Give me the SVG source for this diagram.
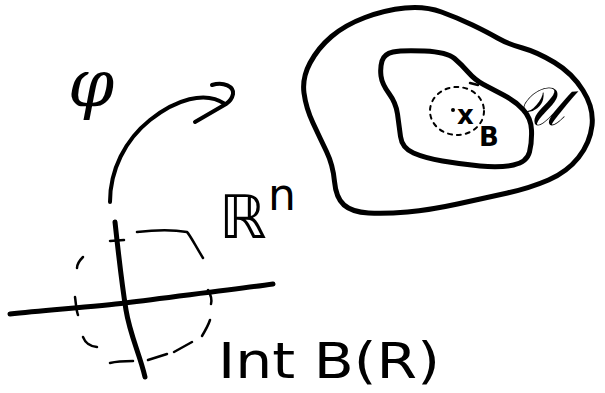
<svg xmlns="http://www.w3.org/2000/svg" width="605" height="393" viewBox="0 0 605 393">
<style>
.ink{fill:none;stroke:#000;stroke-linecap:round;stroke-linejoin:round}
.thick{stroke-width:5}
.mid{stroke-width:4}
.dash{stroke-width:2.5}
.dot{stroke-width:2;stroke-dasharray:4 5}
.t{fill:#000;font-family:"DejaVu Sans","Liberation Sans",sans-serif}
.s{fill:#000;font-family:"DejaVu Serif","Liberation Serif",serif}
</style>
<rect width="605" height="393" fill="#fff"/>
<g id="outer-set">
<path class="ink thick" d="M 304,93 Q 302,78 310,63 Q 318,48 331.5,36.5 Q 345,25 365,17.5 Q 385,10 405,8 Q 425,6 441.5,12 Q 458,18 472.5,25 Q 487,32 497.5,38 Q 508,44 522.5,48 Q 537,52 554.5,62.5 Q 572,73 583,90.5 Q 594,108 592,125.5 Q 590,143 578.5,157.5 Q 567,172 548.5,180 Q 530,188 507.5,193 Q 485,198 457.5,204 Q 430,210 407.5,212 Q 385,214 368.5,213 Q 352,212 344,205 Q 336,198 334.5,181.5 Q 333,165 326.5,151.5 Q 320,138 313,123 Q 306,108 304,93 Z"/>
</g>
<g id="U-set">
<path class="ink thick" d="M 381,76 Q 380,68 382,61 Q 384,54 393,52 Q 402,50 424.5,51 Q 447,52 454.5,58.5 Q 462,65 468.5,72.5 Q 475,80 483.5,84.5 Q 492,89 503.5,95 Q 515,101 523,109.5 Q 531,118 531.5,130 Q 532,142 529.5,152 Q 527,162 513.5,165 Q 500,168 480,166 Q 460,164 442.5,161 Q 425,158 413.5,153 Q 402,148 400.5,136.5 Q 399,125 397.5,114 Q 396,103 389,93.5 Q 382,84 381,76 Z"/>
<path class="ink dash" d="M 470,83 L 478,85"/>
<text class="s" x="516" y="125" font-size="54" font-style="italic">𝒰</text>
</g>
<g id="ball-B">
<ellipse class="ink dot" cx="457" cy="111" rx="27" ry="24"/>
<circle cx="453" cy="110" r="2" fill="#000"/>
<text class="t" x="457" y="124" font-size="26" font-weight="bold">x</text>
<text class="t" x="479" y="146" font-size="26" font-weight="bold">B</text>
</g>
<g id="phi">
<text class="s" x="68" y="106" font-size="66" font-style="italic">φ</text>
</g>
<g id="Rn">
<path class="ink thick" d="M 10,314 C 50,310 100,306 125,303 C 170,297 230,290 273,284"/>
<path class="ink thick" d="M 115,222 C 118,250 122,285 126,310 C 130,335 140,355 145,377"/>
<text class="t" x="219" y="238" font-size="60">ℝ</text>
<text class="t" x="268" y="210" font-size="44">n</text>
</g>
<g id="ball-R">
<path class="ink dash" d="M 110,241 L 124,240"/>
<path class="ink dash" d="M 137,232 C 155,230 175,230 187,232 C 190,235 195,245 203,258"/>
<path class="ink dash" d="M 83,257 C 80,260 77,263 77,268"/>
<path class="ink dash" d="M 75,297 C 76,303 76,310 78,315"/>
<path class="ink dash" d="M 208,290 C 211,295 212,300 211,304"/>
<path class="ink dash" d="M 210,320 C 208,326 205,331 202,336"/>
<path class="ink dash" d="M 192,342 L 174,352"/>
<path class="ink dash" d="M 167,354 L 148,360"/>
<path class="ink dash" d="M 83,337 C 85,342 88,346 97,347"/>
<path class="ink dash" d="M 110,363 C 118,361 126,361 133,361"/>
<text class="t" x="218" y="378" font-size="50" textLength="222" lengthAdjust="spacingAndGlyphs">Int B(R)</text>
</g>
<g id="connectors">
<path class="ink mid" d="M 110,202 C 110,170 125,140 150,120 C 175,100 205,90 225,104"/>
<path class="ink mid" d="M 212,85 C 224,81 234,87 233,94 C 232,99 229,102 226,104 L 195,122"/>
</g>
</svg>
